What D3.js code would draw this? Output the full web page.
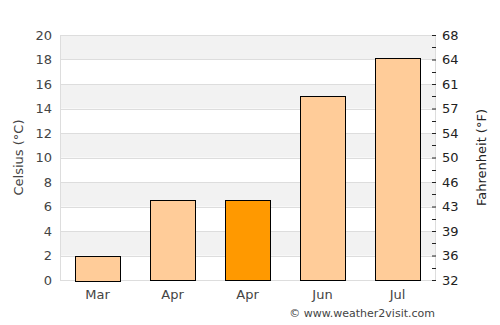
<!DOCTYPE html>
<html>
<head>
<meta charset="utf-8">
<script src="https://cdn.jsdelivr.net/npm/d3@7"></script>
<style>
body { margin: 0; background: #fff; }
text { font-family: "DejaVu Sans", sans-serif; }
</style>
</head>
<body>
<svg id="chart"></svg>
<script>
// month labels and average temps (°C)
var months = ["Mar", "Apr", "Apr", "Jun", "Jul"];
var temps = [2, 6.5, 6.5, 15, 18.1];
var highlight = [false, false, true, false, false];
var celsiusTicks = [0, 2, 4, 6, 8, 10, 12, 14, 16, 18, 20];
var fahrenheitLabels = ["32", "36", "39", "43", "46", "50", "54", "57", "61", "64", "68"];

var svgWidth = 500, svgHeight = 325;
var plotLeft = 60, plotRight = 435, plotTop = 35, plotBottom = 280;

var svg = d3.select("#chart")
    .attr("width", svgWidth)
    .attr("height", svgHeight);

var x = d3.scaleBand()
    .domain(d3.range(months.length))
    .range([plotLeft, plotRight])
    .paddingInner(0.4)
    .paddingOuter(0.2);

var y = d3.scaleLinear()
    .domain([0, 20])
    .range([plotBottom, plotTop]);

// alternating bands
for (var i = 0; i < celsiusTicks.length - 1; i++) {
    if (i % 2 == 1) {
        svg.append("rect")
            .attr("x", plotLeft)
            .attr("y", y(celsiusTicks[i + 1]))
            .attr("width", plotRight - plotLeft)
            .attr("height", y(celsiusTicks[i]) - y(celsiusTicks[i + 1]))
            .attr("fill", "#f2f2f2");
    }
}

// grid lines
svg.selectAll("line.grid")
    .data(celsiusTicks)
    .enter()
    .append("line")
    .attr("class", "grid")
    .attr("x1", plotLeft)
    .attr("x2", plotRight)
    .attr("y1", function (d) { return Math.round(y(d)) + 0.5; })
    .attr("y2", function (d) { return Math.round(y(d)) + 0.5; })
    .attr("stroke", "#dddddd");

svg.append("line")
    .attr("x1", plotLeft + 0.5).attr("x2", plotLeft + 0.5)
    .attr("y1", plotTop).attr("y2", plotBottom)
    .attr("stroke", "#dddddd");
svg.append("line")
    .attr("x1", plotRight + 0.5).attr("x2", plotRight + 0.5)
    .attr("y1", plotTop).attr("y2", plotBottom)
    .attr("stroke", "#dddddd");

// bars
svg.selectAll("rect.bar")
    .data(temps)
    .enter()
    .append("rect")
    .attr("class", "bar")
    .attr("x", function (d, i) { return Math.round(x(i)) + 0.5; })
    .attr("y", function (d) { return Math.round(y(d)) + 0.5; })
    .attr("width", Math.round(x.bandwidth()))
    .attr("height", function (d) { return Math.round(plotBottom - y(d)); })
    .attr("fill", function (d, i) { return highlight[i] ? "#ff9900" : "#ffcc99"; })
    .attr("stroke", "#000")
    .attr("stroke-width", 1);

// left axis
var yAxis = d3.axisLeft(y).tickValues(celsiusTicks).tickSize(0).tickPadding(8);
var gl = svg.append("g").attr("transform", "translate(" + plotLeft + ",0)").call(yAxis);
gl.select(".domain").remove();
gl.selectAll("text").attr("font-size", 13).attr("fill", "#444").style("font-family", "DejaVu Sans");

// right axis
var yAxisR = d3.axisRight(y)
    .tickValues(celsiusTicks)
    .tickFormat(function (d, i) { return fahrenheitLabels[i]; })
    .tickSize(4)
    .tickPadding(6);
var gr = svg.append("g").attr("transform", "translate(" + (plotRight - 3) + ",0)").call(yAxisR);
gr.select(".domain").remove();
gr.selectAll("line").attr("stroke", "#222");
gr.selectAll("text").attr("font-size", 13).attr("fill", "#222").style("font-family", "DejaVu Sans");

// minor ticks on right
svg.selectAll("line.minor")
    .data(d3.range(1, 20, 2))
    .enter()
    .append("line")
    .attr("class", "minor")
    .attr("x1", plotRight - 3).attr("x2", plotRight + 1)
    .attr("y1", function (d) { return Math.round(y(d)) + 0.5; })
    .attr("y2", function (d) { return Math.round(y(d)) + 0.5; })
    .attr("stroke", "#222");

// x axis labels
var xAxis = d3.axisBottom(x).tickSize(0).tickPadding(10).tickFormat(function (i) { return months[i]; });
var gx = svg.append("g").attr("transform", "translate(0," + plotBottom + ")").call(xAxis);
gx.select(".domain").remove();
gx.selectAll("text").attr("font-size", 13).attr("fill", "#444").style("font-family", "DejaVu Sans");

// axis titles
svg.append("text")
    .attr("transform", "translate(23," + ((plotTop + plotBottom) / 2) + ") rotate(-90)")
    .attr("text-anchor", "middle")
    .attr("font-size", 13)
    .attr("fill", "#444")
    .text("Celsius (°C)");

svg.append("text")
    .attr("transform", "translate(486," + ((plotTop + plotBottom) / 2) + ") rotate(-90)")
    .attr("text-anchor", "middle")
    .attr("font-size", 13)
    .attr("fill", "#222")
    .text("Fahrenheit (°F)");

svg.append("text")
    .attr("x", plotRight)
    .attr("y", 317)
    .attr("text-anchor", "end")
    .attr("font-size", 11)
    .attr("fill", "#444")
    .text("© www.weather2visit.com");
</script>
</body>
</html>
